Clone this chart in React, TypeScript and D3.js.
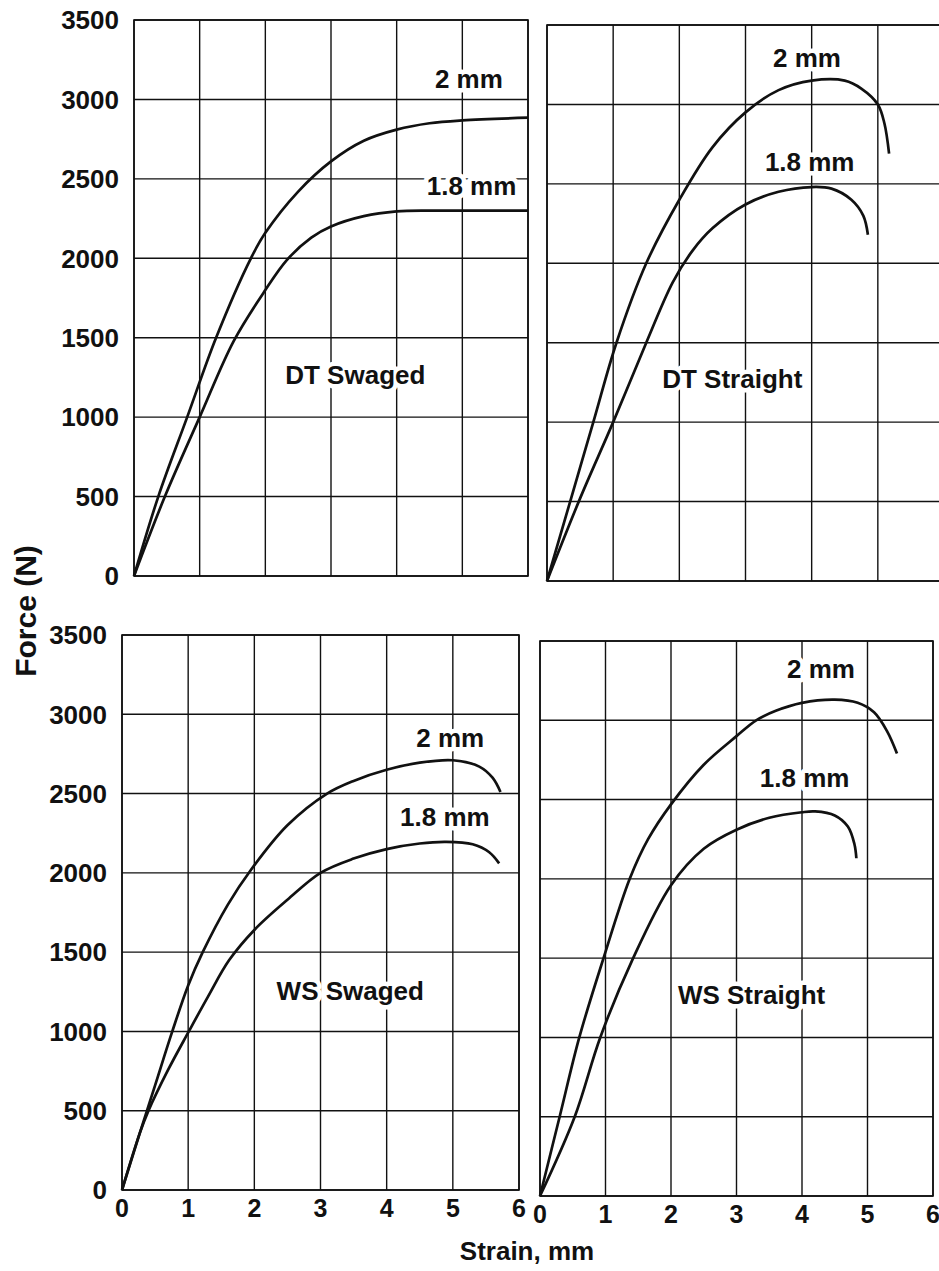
import React from "react";
import * as d3 from "d3";

// ---------- DATA ----------
const strainTicks = [0, 1, 2, 3, 4, 5, 6];
const forceTicks = [0, 500, 1000, 1500, 2000, 2500, 3000, 3500];
const panelNames = ["DT Swaged", "DT Straight", "WS Swaged", "WS Straight"];
const seriesNames = ["2 mm", "1.8 mm"];
const xAxisTitle = "Strain, mm";
const yAxisTitle = "Force (N)";

// [strain (mm), force (N)]
const dtSwaged2 = [[0, 0], [0.37, 500], [0.81, 1000], [1.25, 1500], [1.78, 2000], [2, 2160], [2.5, 2420], [3, 2610], [3.5, 2740], [4, 2810], [4.5, 2850], [5, 2868], [6, 2885]];
const dtSwaged18 = [[0, 0], [0.47, 500], [1.0, 1000], [1.52, 1480], [2, 1800], [2.33, 1990], [2.7, 2130], [3, 2200], [3.5, 2265], [4, 2295], [4.5, 2300], [5, 2300], [6, 2300]];

const dtStraight2 = [[0, 0], [0.35, 500], [0.7, 1000], [1.05, 1500], [1.5, 2000], [2, 2400], [2.5, 2730], [3, 2950], [3.5, 3090], [4, 3150], [4.5, 3150], [4.75, 3100], [5, 3000], [5.1, 2880], [5.17, 2690]];
const dtStraight18 = [[0, 0], [0.5, 520], [1, 1000], [1.5, 1500], [1.9, 1880], [2.2, 2080], [2.5, 2220], [3, 2370], [3.5, 2450], [4, 2480], [4.3, 2470], [4.6, 2400], [4.78, 2300], [4.85, 2180]];

const wsSwaged2 = [[0, 0], [0.27, 360], [0.5, 660], [0.76, 1000], [1, 1290], [1.22, 1500], [1.6, 1800], [1.95, 2020], [2.5, 2300], [3.1, 2500], [3.5, 2580], [4, 2650], [4.5, 2695], [5, 2710], [5.4, 2670], [5.6, 2600], [5.72, 2510]];
const wsSwaged18 = [[0, 0], [0.27, 360], [0.4, 500], [0.7, 760], [1.01, 1000], [1.3, 1220], [1.62, 1450], [2, 1640], [2.5, 1830], [3, 2000], [3.5, 2090], [4, 2150], [4.5, 2185], [4.9, 2195], [5.3, 2180], [5.55, 2130], [5.7, 2060]];

const wsStraight2 = [[0, 0], [0.3, 500], [0.6, 1000], [0.97, 1500], [1.37, 2000], [1.65, 2250], [2, 2470], [2.5, 2720], [3, 2900], [3.3, 3000], [3.6, 3060], [4, 3110], [4.5, 3130], [4.85, 3110], [5.1, 3050], [5.3, 2930], [5.45, 2790]];
const wsStraight18 = [[0, 0], [0.53, 500], [0.92, 1000], [1.4, 1480], [2, 1960], [2.5, 2190], [3, 2310], [3.5, 2385], [4, 2420], [4.2, 2425], [4.5, 2400], [4.7, 2330], [4.8, 2220], [4.83, 2130]];

// ---------- LAYOUT (pixels) ----------
const panelLayout = [
  { left: 134, right: 528, top: 20, bottom: 576, yLabels: true, xLabels: false },
  { left: 547, right: 944, top: 25, bottom: 581, yLabels: false, xLabels: false },
  { left: 122, right: 519, top: 635, bottom: 1190, yLabels: true, xLabels: true },
  { left: 540, right: 933, top: 641, bottom: 1196, yLabels: false, xLabels: true },
];

// annotation anchors in data units [strain, force] (label centres)
const annotationPos = [
  { s2: [5.1, 3130], s18: [5.14, 2460], title: [3.37, 1265] },
  { s2: [3.93, 3295], s18: [3.97, 2640], title: [2.8, 1271] },
  { s2: [4.96, 2852], s18: [4.88, 2355], title: [3.45, 1258] },
  { s2: [4.29, 3328], s18: [4.04, 2637], title: [3.23, 1270] },
];

const panelSeries = [
  [dtSwaged2, dtSwaged18],
  [dtStraight2, dtStraight18],
  [wsSwaged2, wsSwaged18],
  [wsStraight2, wsStraight18],
];

const FONT = "'Liberation Sans', Arial, Helvetica, sans-serif";
const INK = "#111";

function Label({ x, y, text }: { x: number; y: number; text: string }) {
  return (
    <text
      x={x}
      y={y}
      textAnchor="middle"
      fontSize={26}
      fontWeight="bold"
      fontFamily={FONT}
      fill={INK}
      stroke="#fff"
      strokeWidth={9}
      strokeLinejoin="round"
      paintOrder="stroke"
    >
      {text}
    </text>
  );
}

function Panel({ idx }: { idx: number }) {
  const L = panelLayout[idx];
  const x = d3.scaleLinear().domain([0, 6]).range([L.left, L.right]);
  const y = d3.scaleLinear().domain([0, 3500]).range([L.bottom, L.top]);
  const line = d3
    .line<number[]>()
    .x((d) => x(d[0]))
    .y((d) => y(d[1]))
    .curve(d3.curveCatmullRom.alpha(0.5));
  const ann = annotationPos[idx];
  const cy = (v: number) => y(v) + 0.358 * 26;
  return (
    <g>
      {strainTicks.map((t) => (
        <line key={"v" + t} x1={x(t)} x2={x(t)} y1={L.top} y2={L.bottom} stroke={INK} strokeWidth={1.4} />
      ))}
      {forceTicks.map((t) => (
        <line key={"h" + t} x1={L.left} x2={L.right} y1={y(t)} y2={y(t)} stroke={INK} strokeWidth={1.4} />
      ))}
      <rect x={L.left} y={L.top} width={L.right - L.left} height={L.bottom - L.top} fill="none" stroke={INK} strokeWidth={1.6} />
      {L.yLabels &&
        forceTicks.map((t) => (
          <text key={"yl" + t} x={L.left - 15} y={y(t) + 0.358 * 26} textAnchor="end" fontSize={26} fontWeight="bold" fontFamily={FONT} fill={INK}>
            {t}
          </text>
        ))}
      {L.xLabels &&
        strainTicks.map((t) => (
          <text key={"xl" + t} x={x(t)} y={L.bottom + 27} textAnchor="middle" fontSize={25} fontWeight="bold" fontFamily={FONT} fill={INK}>
            {t}
          </text>
        ))}
      <Label x={x(ann.s2[0])} y={cy(ann.s2[1])} text={seriesNames[0]} />
      <Label x={x(ann.s18[0])} y={cy(ann.s18[1])} text={seriesNames[1]} />
      <Label x={x(ann.title[0])} y={cy(ann.title[1])} text={panelNames[idx]} />
      {panelSeries[idx].map((s, i) => (
        <path key={"s" + i} d={line(s as number[][]) || ""} fill="none" stroke={INK} strokeWidth={2.7} strokeLinecap="butt" />
      ))}
    </g>
  );
}

export default function App() {
  return (
    <div style={{ position: "absolute", left: 0, top: 0, width: 939, height: 1271, background: "#fff" }}>
      <svg width={939} height={1271} viewBox="0 0 939 1271" style={{ display: "block" }}>
        <rect x={0} y={0} width={939} height={1271} fill="#fff" />
        {panelLayout.map((_, i) => (
          <Panel key={i} idx={i} />
        ))}
        <text x={527} y={1260} textAnchor="middle" fontSize={26} fontWeight="bold" fontFamily={FONT} fill={INK}>
          {xAxisTitle}
        </text>
        <text
          transform="translate(36,611) rotate(-90)"
          textAnchor="middle"
          fontSize={30}
          fontWeight="bold"
          fontFamily={FONT}
          fill={INK}
        >
          {yAxisTitle}
        </text>
      </svg>
    </div>
  );
}
